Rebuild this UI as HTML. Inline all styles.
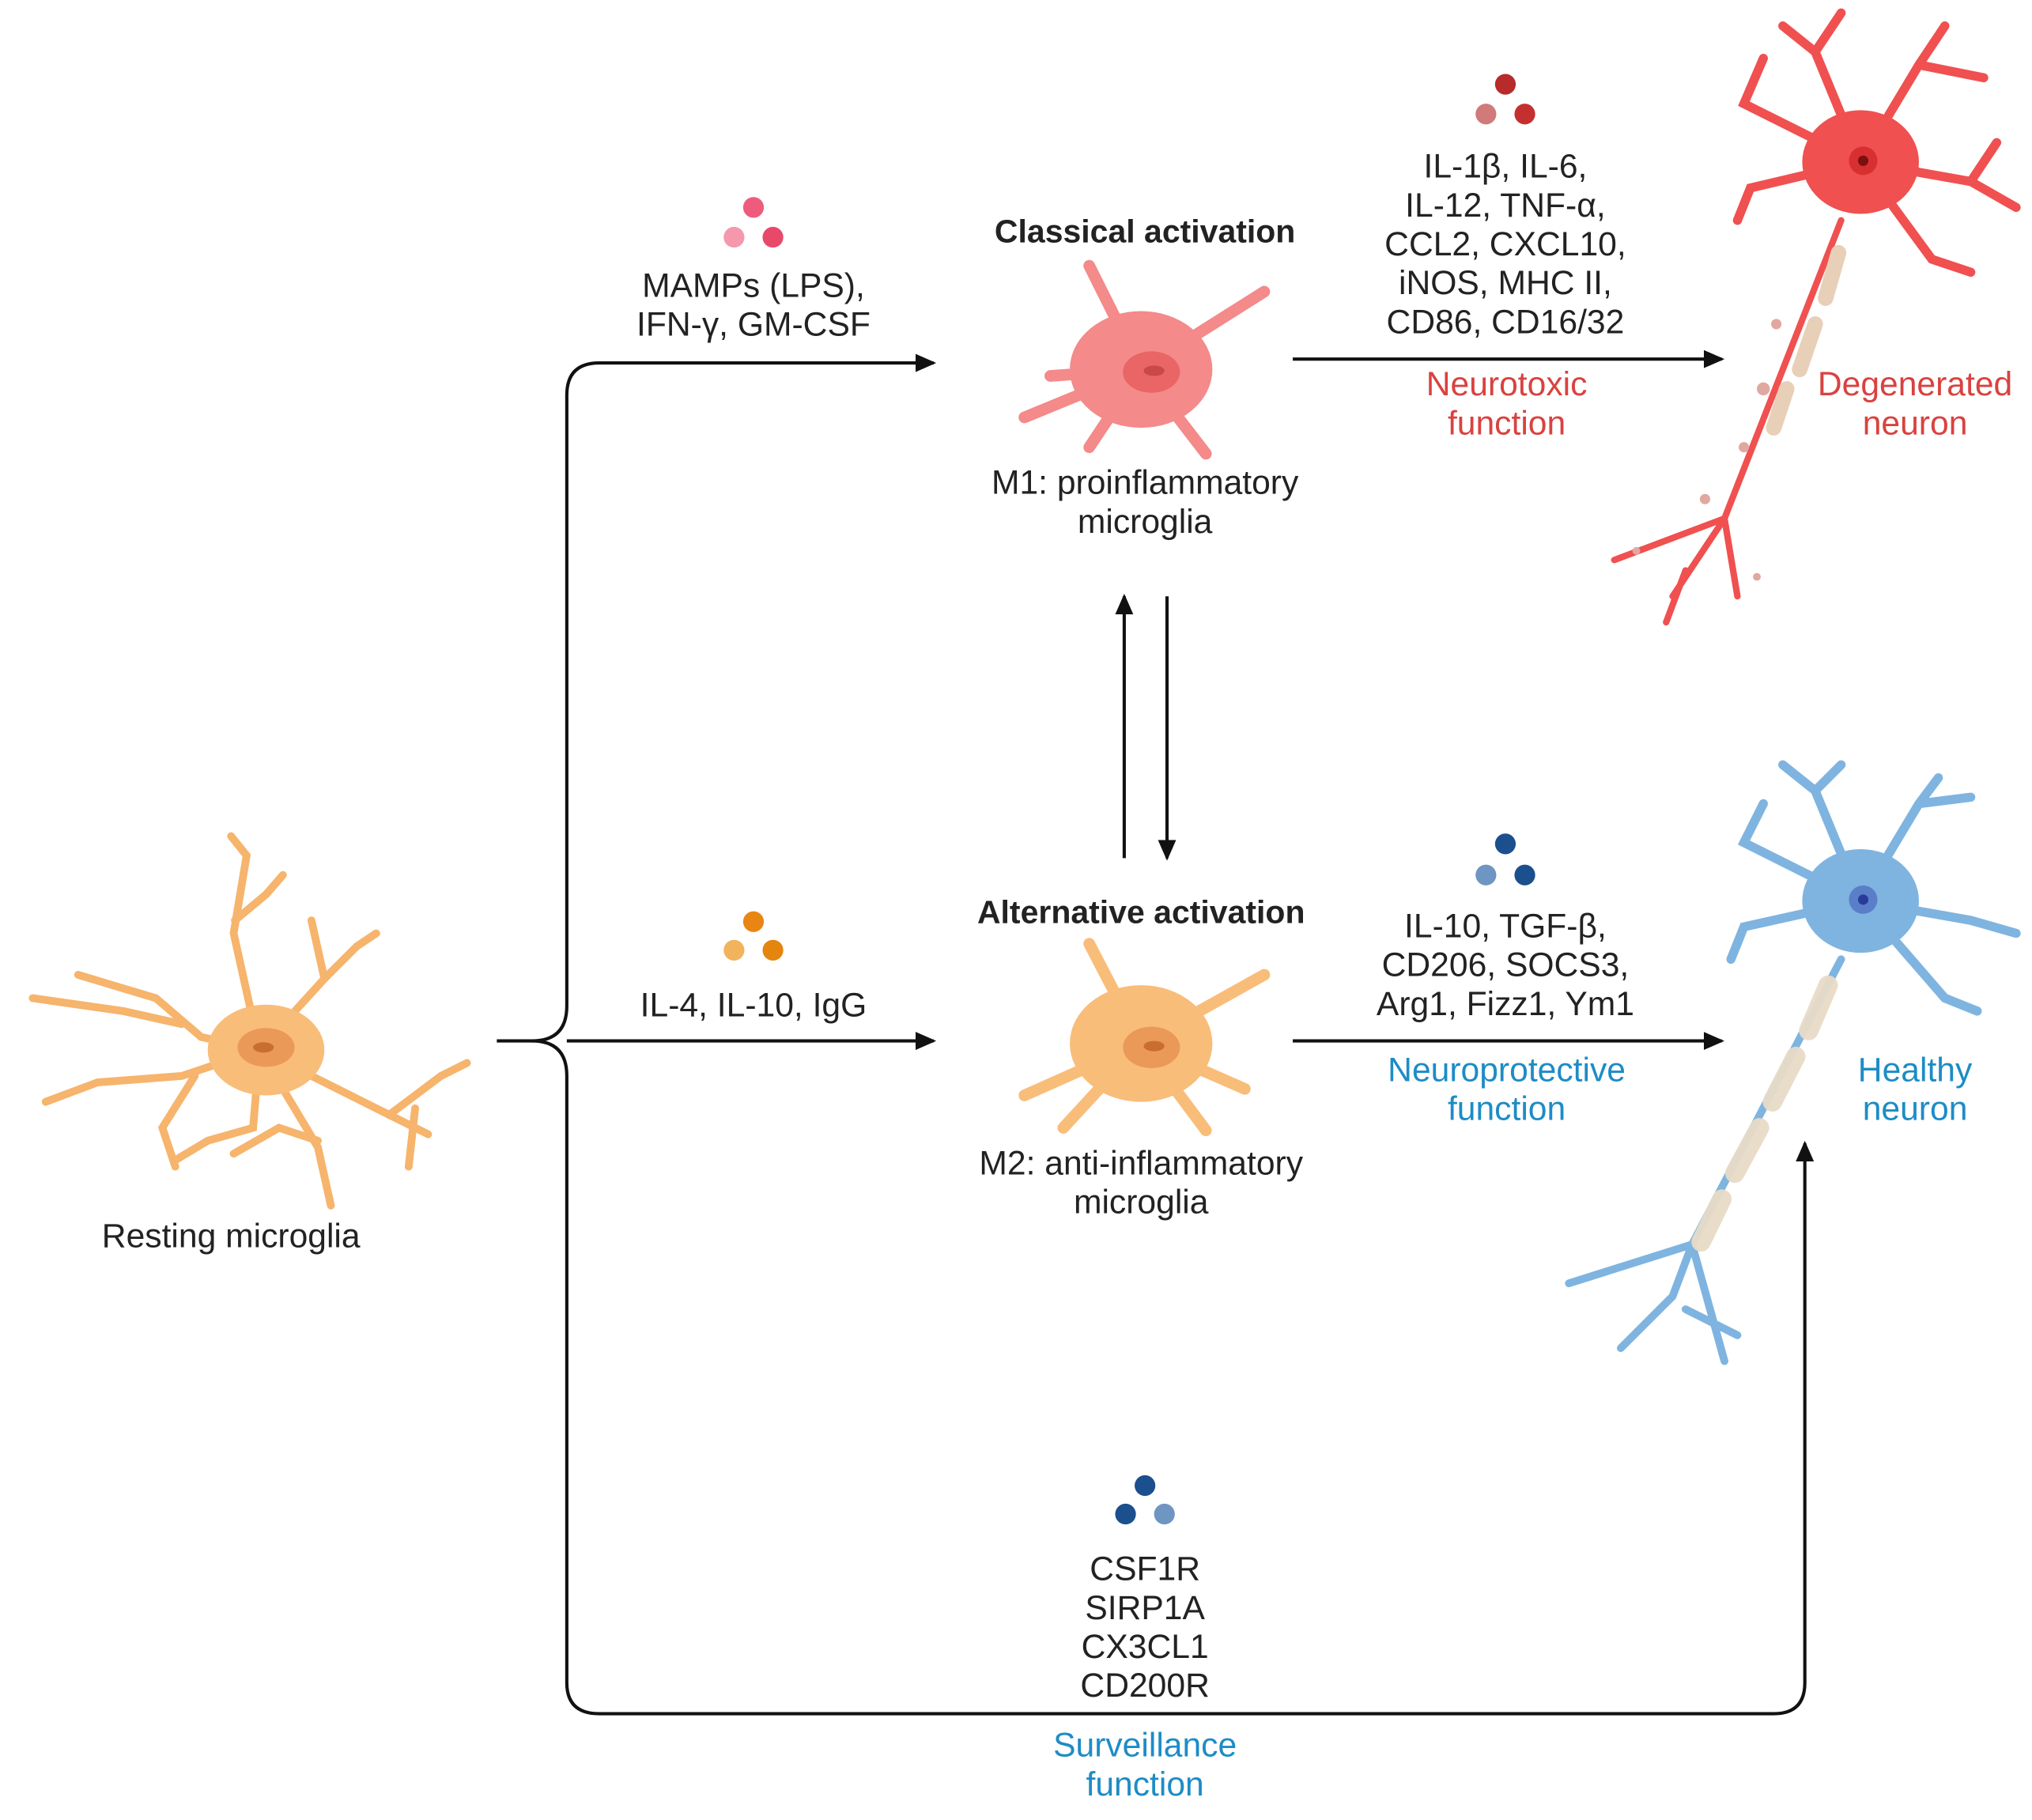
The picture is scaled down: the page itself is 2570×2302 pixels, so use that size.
<!DOCTYPE html>
<html><head><meta charset="utf-8"><style>
html,body{margin:0;padding:0;background:#fff}
svg{display:block}
text{font-family:"Liberation Sans",sans-serif;font-size:26px;fill:#222;text-anchor:middle}
.b{font-weight:bold;font-size:25px}
.r{fill:#d9423f}
.bl{fill:#1d8cc6}
</style></head><body>
<svg width="2570" height="2302" viewBox="0 0 1567 1404" xmlns="http://www.w3.org/2000/svg">
<defs>
<marker id="ah" markerWidth="16" markerHeight="14" refX="14" refY="7" orient="auto" markerUnits="userSpaceOnUse" viewBox="0 0 16 14">
<path d="M0,0 L16,7 L0,14 z" fill="#111"/></marker>
</defs>
<g fill="none" stroke="#111" stroke-width="2.5">
<path d="M383,803 H410 Q437,803 437,776 V305 Q437,280 462,280 H720" marker-end="url(#ah)"/>
<path d="M437,803 H720" marker-end="url(#ah)"/>
<path d="M410,803 Q437,803 437,830 V1298 Q437,1322 462,1322 H1368 Q1392,1322 1392,1298 V882" marker-end="url(#ah)"/>
<path d="M997,277 H1328" marker-end="url(#ah)"/>
<path d="M997,803 H1328" marker-end="url(#ah)"/>
<path d="M867,662 V460" marker-end="url(#ah)"/>
<path d="M900,460 V662" marker-end="url(#ah)"/>
</g>
<!-- resting microglia -->
<g stroke="#f6b46c" stroke-linecap="round" fill="none" stroke-width="6">
<path d="M200,810 L180,720 L190,660 L178,645"/><path d="M181,710 L205,690 L218,675"/>
<path d="M200,810 L250,755 L240,710"/><path d="M250,755 L275,730 L290,720"/>
<path d="M200,810 L155,800 L120,770 L60,752"/><path d="M140,790 L95,780 L25,770"/>
<path d="M200,810 L140,830 L75,835 L35,850"/><path d="M150,830 L125,870 L135,900"/>
<path d="M200,810 L245,885 L255,930"/><path d="M245,880 L215,870 L180,890"/>
<path d="M200,810 L300,860 L340,830 L360,820"/><path d="M320,855 L315,900"/><path d="M300,860 L330,875"/>
<path d="M200,810 L195,870 L160,880 L135,895"/>
</g>
<ellipse cx="205" cy="810" rx="45" ry="35" fill="#f9bd7a"/>
<ellipse cx="205" cy="808" rx="22" ry="15" fill="#eb9958"/><ellipse cx="203" cy="808" rx="8" ry="4" fill="#c86f30"/>
<text x="178" y="962">Resting microglia</text>
<!-- dots -->
<circle cx="581" cy="160" r="8" fill="#ee5b7d"/><circle cx="566" cy="183" r="8" fill="#f598ad"/><circle cx="596" cy="183" r="8" fill="#e8486a"/>
<circle cx="581" cy="711" r="8" fill="#e98513"/><circle cx="566" cy="733" r="8" fill="#f2b35d"/><circle cx="596" cy="733" r="8" fill="#e4850e"/>
<circle cx="1161" cy="65" r="8" fill="#b72b2b"/><circle cx="1146" cy="88" r="8" fill="#d07a7a"/><circle cx="1176" cy="88" r="8" fill="#c43030"/>
<circle cx="1161" cy="651" r="8" fill="#1b4f8e"/><circle cx="1146" cy="675" r="8" fill="#6f95c2"/><circle cx="1176" cy="675" r="8" fill="#1b4f8e"/>
<circle cx="883" cy="1146" r="8" fill="#1b4f8e"/><circle cx="868" cy="1168" r="8" fill="#1b4f8e"/><circle cx="898" cy="1168" r="8" fill="#6f95c2"/>
<text x="581" y="229">MAMPs (LPS),</text><text x="581" y="259">IFN-γ, GM-CSF</text>
<text x="581" y="784">IL-4, IL-10, IgG</text>
<!-- M1 -->
<text class="b" x="883" y="187">Classical activation</text>
<g stroke="#f48a8a" stroke-width="9" stroke-linecap="round"><path d="M880,285 L840,205 M880,285 L975,225 M880,285 L790,322 M880,285 L930,350 M880,285 L810,290 M880,285 L840,345"/></g>
<ellipse cx="880" cy="285" rx="55" ry="45" fill="#f48a8a"/>
<ellipse cx="888" cy="287" rx="22" ry="16" fill="#e96566"/><ellipse cx="890" cy="286" rx="8" ry="4" fill="#c94848"/>
<text x="883" y="381">M1: proinflammatory</text><text x="883" y="411">microglia</text>
<!-- M2 -->
<text class="b" x="880" y="712">Alternative activation</text>
<g stroke="#f9bd7a" stroke-width="9" stroke-linecap="round"><path d="M880,805 L840,728 M880,805 L975,752 M880,805 L790,845 M880,805 L930,872 M880,805 L820,870 M880,805 L960,840"/></g>
<ellipse cx="880" cy="805" rx="55" ry="45" fill="#f9bd7a"/>
<ellipse cx="888" cy="808" rx="22" ry="16" fill="#eb9958"/><ellipse cx="890" cy="807" rx="8" ry="4" fill="#c86f30"/>
<text x="880" y="906">M2: anti-inflammatory</text><text x="880" y="936">microglia</text>
<!-- markers -->
<text x="1161" y="137">IL-1β, IL-6,</text><text x="1161" y="167">IL-12, TNF-α,</text><text x="1161" y="197">CCL2, CXCL10,</text><text x="1161" y="227">iNOS, MHC II,</text><text x="1161" y="257">CD86, CD16/32</text>
<text class="r" x="1162" y="305">Neurotoxic</text><text class="r" x="1162" y="335">function</text>
<text class="r" x="1477" y="305">Degenerated</text><text class="r" x="1477" y="335">neuron</text>
<text x="1161" y="723">IL-10, TGF-β,</text><text x="1161" y="753">CD206, SOCS3,</text><text x="1161" y="783">Arg1, Fizz1, Ym1</text>
<text class="bl" x="1162" y="834">Neuroprotective</text><text class="bl" x="1162" y="864">function</text>
<text class="bl" x="1477" y="834">Healthy</text><text class="bl" x="1477" y="864">neuron</text>
<text x="883" y="1219">CSF1R</text><text x="883" y="1249">SIRP1A</text><text x="883" y="1279">CX3CL1</text><text x="883" y="1309">CD200R</text>
<text class="bl" x="883" y="1355">Surveillance</text><text class="bl" x="883" y="1385">function</text>
<!-- degenerated neuron -->
<g stroke="#f05050" stroke-linecap="round" fill="none" stroke-width="7">
<path d="M1435,125 L1400,40 L1375,20 M1400,40 L1420,10 M1435,125 L1480,50 L1500,20 M1480,50 L1530,60 M1435,125 L1345,80 L1360,45 M1435,125 L1520,140 L1555,160 M1520,140 L1540,110 M1435,125 L1490,200 L1520,210 M1435,125 L1350,145 L1340,170"/>
<path d="M1420,170 L1330,400 L1290,460 M1330,400 L1245,432 M1330,400 L1340,460 M1300,440 L1285,480" stroke-width="5"/>
</g>
<g fill="#e0a8a0"><circle cx="1370" cy="250" r="4"/><circle cx="1360" cy="300" r="5"/><circle cx="1345" cy="345" r="4"/><circle cx="1315" cy="385" r="4"/><circle cx="1262" cy="425" r="3"/><circle cx="1355" cy="445" r="3"/></g>
<g stroke="#e8cfb8" stroke-width="12" stroke-linecap="round"><path d="M1418,195 L1408,230 M1400,250 L1388,285 M1378,300 L1368,330"/></g>
<ellipse cx="1435" cy="125" rx="45" ry="40" fill="#f05050"/><circle cx="1437" cy="124" r="11" fill="#d83030"/><circle cx="1437" cy="124" r="4" fill="#7a1010"/>
<!-- healthy neuron -->
<g stroke="#7fb4e0" stroke-linecap="round" fill="none" stroke-width="7">
<path d="M1435,695 L1400,610 L1375,590 M1400,610 L1420,590 M1435,695 L1480,620 L1495,600 M1480,620 L1520,615 M1435,695 L1345,650 L1360,620 M1435,695 L1520,710 L1555,720 M1435,695 L1500,770 L1525,780 M1435,695 L1345,715 L1335,740"/>
<path d="M1420,740 L1305,960 L1290,1000 M1305,960 L1210,990 M1305,960 L1330,1050 M1290,1000 L1250,1040 M1300,1010 L1340,1030" stroke-width="6"/>
</g>
<g stroke="#e8dcc8" stroke-width="15" stroke-linecap="round" opacity="0.95"><path d="M1410,760 L1395,795 M1385,815 L1367,850 M1357,870 L1338,905 M1328,925 L1312,958"/></g>
<ellipse cx="1435" cy="695" rx="45" ry="40" fill="#7fb4e0"/><circle cx="1437" cy="694" r="11" fill="#5a7fc8"/><circle cx="1437" cy="694" r="4" fill="#2a3a9a"/>
</svg>
</body></html>
